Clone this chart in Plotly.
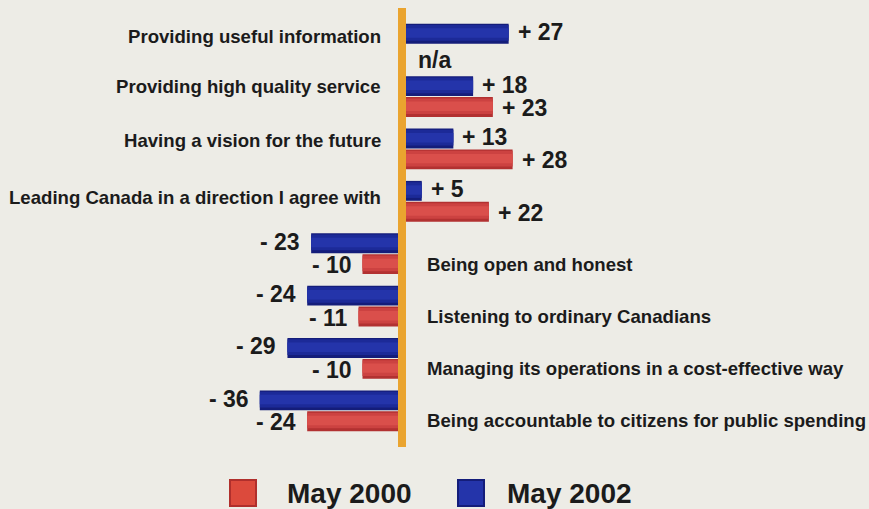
import plotly.graph_objects as go

# Survey attributes, net ratings for the two waves
categories = [
    "Providing useful information",
    "Providing high quality service",
    "Having a vision for the future",
    "Leading Canada in a direction I agree with",
    "Being open and honest",
    "Listening to ordinary Canadians",
    "Managing its operations in a cost-effective way",
    "Being accountable to citizens for public spending",
]
may2002 = [27, 18, 13, 5, -23, -24, -29, -36]
may2000 = [None, 23, 28, 22, -10, -11, -10, -24]
series_names = ["May 2000", "May 2002"]

W, H = 869, 509
MT, MB = 18, 72
PLOT_H = H - MT - MB
ZERO_PX, PX_PER_UNIT = 402, 3.95
x_range = [-ZERO_PX / PX_PER_UNIT, (W - ZERO_PX) / PX_PER_UNIT]

BG = "#edece6"
BLUE_SHADES = ["#141d7a", "#1c2a98", "#2434aa"]
RED_SHADES = ["#b23131", "#cc4241", "#da4f4b"]
ORANGE = "#eaa42f"
TEXT = "#1b1b1b"
FONT = "Liberation Sans, Arial, sans-serif"

pos = list(range(len(categories)))
BAR_WIDTHS = [0.38, 0.30, 0.18]
BLUE_C, RED_C = -0.2, 0.2


def paper_y(px):
    return (H - MB - px) / PLOT_H


fig = go.Figure()


def add_bar(values, center, shades):
    # Layered bars of shrinking thickness give a rounded, shaded look
    for k, (w, col) in enumerate(zip(BAR_WIDTHS, shades)):
        fig.add_trace(go.Bar(
            x=values, y=pos, orientation="h", width=w,
            offset=center - w / 2 - (0.015 if k else 0),
            marker=dict(color=col, line=dict(width=0)), showlegend=False,
            hoverinfo="x" if k == 0 else "skip",
        ))


add_bar(may2002, BLUE_C, BLUE_SHADES)
add_bar(may2000, RED_C, RED_SHADES)

annotations = []


def fmt(v):
    return f"+ {v}" if v > 0 else f"- {abs(v)}"


for vals, c, dy in ((may2002, BLUE_C, 1.5), (may2000, RED_C, -1)):
    for i, v in enumerate(vals):
        if v is None:
            annotations.append(dict(
                x=0, y=i + c, xref="x", yref="y", text="<b>n/a</b>", showarrow=False,
                xanchor="left", xshift=14, yshift=-5,
                font=dict(size=23, color=TEXT, family=FONT),
            ))
            continue
        annotations.append(dict(
            x=v, y=i + c, xref="x", yref="y", text=f"<b>{fmt(v)}</b>", showarrow=False,
            xanchor="left" if v > 0 else "right", xshift=7 if v > 0 else -9, yshift=dy,
            font=dict(size=23, color=TEXT, family=FONT),
        ))

# Category names: left of the axis for gains, right of it for losses
label_shift = [8, 10, 8, 4, -11, -10, -10, -10]
for i, name in enumerate(categories):
    positive = may2002[i] > 0
    annotations.append(dict(
        x=0, y=i, xref="x", yref="y", text=f"<b>{name}</b>", showarrow=False,
        xanchor="right" if positive else "left", xshift=-19 if positive else 23,
        yshift=label_shift[i],
        font=dict(size=18.6, color=TEXT, family=FONT),
    ))

# Legend drawn as swatches plus labels
shapes = [dict(
    type="line", xref="x", yref="paper", x0=0, x1=0,
    y0=paper_y(447), y1=paper_y(8), line=dict(color=ORANGE, width=8), layer="above",
)]
legend_items = [(series_names[0], "#dc4a3c", "#b02f2c", 230, 285),
                (series_names[1], "#2434aa", "#141d7a", 458, 505)]
for name, fill, edge, sx, tx in legend_items:
    shapes.append(dict(
        type="rect", xref="paper", yref="paper",
        x0=sx / W, x1=(sx + 26) / W, y0=paper_y(506), y1=paper_y(480),
        fillcolor=fill, line=dict(color=edge, width=2),
    ))
    annotations.append(dict(
        x=tx / W, y=paper_y(493), xref="paper", yref="paper", text=f"<b>{name}</b>",
        showarrow=False, xanchor="left", yanchor="middle",
        font=dict(size=28, color=TEXT, family=FONT),
    ))

fig.update_layout(
    width=W, height=H,
    margin=dict(l=0, r=0, t=MT, b=MB),
    paper_bgcolor=BG, plot_bgcolor=BG,
    barmode="overlay",
    xaxis=dict(range=x_range, showgrid=False, zeroline=False, showticklabels=False,
               fixedrange=True),
    yaxis=dict(range=[len(categories) - 0.5, -0.5], showgrid=False, zeroline=False,
               showticklabels=False, fixedrange=True),
    annotations=annotations,
    shapes=shapes,
    font=dict(family=FONT, color=TEXT),
)

fig.write_html("out.html")
